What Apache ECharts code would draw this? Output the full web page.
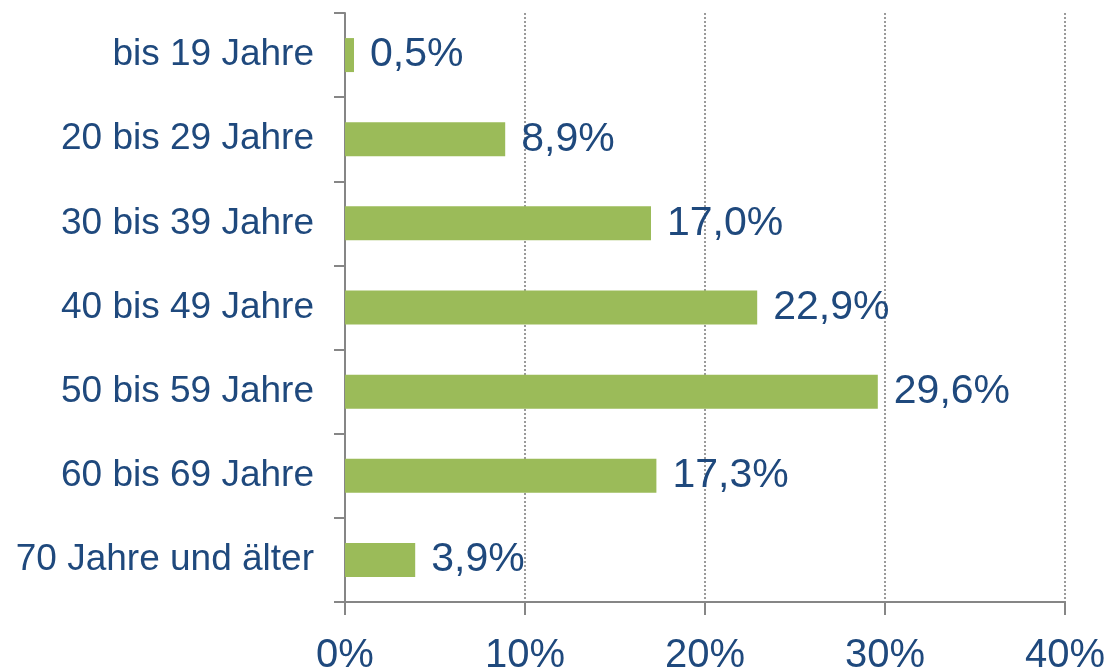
<!DOCTYPE html>
<html>
<head>
<meta charset="utf-8">
<script src="https://cdn.jsdelivr.net/npm/echarts@6/dist/echarts.min.js"></script>
<style>
  html, body { margin: 0; padding: 0; background: #fff; }
  #chart { width: 1111px; height: 669px; }
</style>
</head>
<body>
<div id="chart"></div>
<script>
// Altersgruppen, von oben nach unten
var categories = ['bis 19 Jahre', '20 bis 29 Jahre', '30 bis 39 Jahre', '40 bis 49 Jahre', '50 bis 59 Jahre', '60 bis 69 Jahre', '70 Jahre und älter']
var shares = [0.5, 8.9, 17.0, 22.9, 29.6, 17.3, 3.9]
var xTicks = [0, 10, 20, 30, 40]

var textColor = '#1f497d'
var axisGray = '#868686'

var myChart = echarts.init(document.getElementById('chart'))
var option = {
    animation: false,
    textStyle: { fontFamily: 'Liberation Sans, Arial, sans-serif' },
    grid: { left: 345, right: 46, top: 13, bottom: 67, containLabel: false, outerBoundsMode: 'none' },
    xAxis: {
        type: 'value',
        min: xTicks[0],
        max: xTicks[xTicks.length - 1],
        interval: 10,
        axisLine: { show: true, lineStyle: { color: axisGray, width: 2 } },
        axisTick: { show: true, length: 13, lineStyle: { color: axisGray, width: 2 } },
        axisLabel: {
            color: textColor,
            fontSize: 40,
            margin: 34,
            formatter: function (v) { return v + '%' }
        },
        splitLine: { show: true, lineStyle: { color: '#9a9a9a', type: 'dotted', width: 2 } }
    },
    yAxis: {
        type: 'category',
        inverse: true,
        data: categories,
        axisLine: { show: true, lineStyle: { color: axisGray, width: 2 } },
        axisTick: { show: true, length: 11, lineStyle: { color: axisGray, width: 2 } },
        axisLabel: { color: textColor, fontSize: 37, margin: 31, padding: [4, 0, 0, 0] }
    },
    series: [{
        type: 'bar',
        data: shares,
        barWidth: 34,
        itemStyle: { color: '#9bbb59' },
        label: {
            show: true,
            position: 'right',
            distance: 16,
            color: textColor,
            fontSize: 41,
            padding: [5, 0, 0, 0],
            formatter: function (p) { return p.value.toFixed(1).replace('.', ',') + '%' }
        }
    }]
}
myChart.setOption(option)
</script>
</body>
</html>
